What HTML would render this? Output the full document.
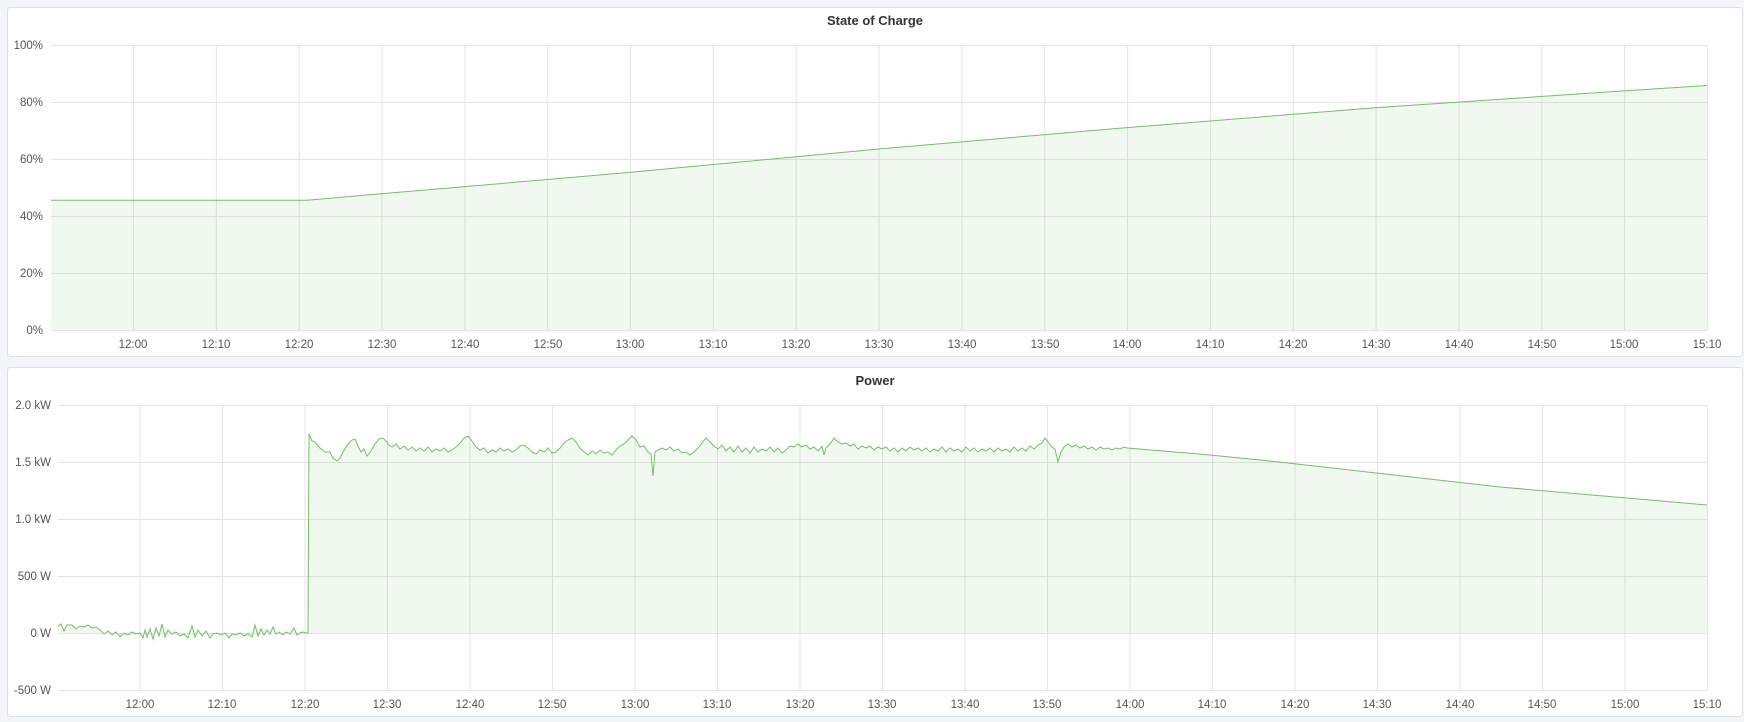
<!DOCTYPE html>
<html><head><meta charset="utf-8"><style>
html,body{margin:0;padding:0;background:#f4f5f8;width:1744px;height:722px;overflow:hidden;font-family:"Liberation Sans",sans-serif}
svg{position:absolute;left:0;top:0}
text{font-family:"Liberation Sans",sans-serif}
</style></head><body>
<svg width="1744" height="722" xmlns="http://www.w3.org/2000/svg">
<rect x="7.5" y="7.5" width="1735" height="349" rx="3" fill="#fff" stroke="#dce1e8"/>
<rect x="7.5" y="367.5" width="1735" height="349" rx="3" fill="#fff" stroke="#dce1e8"/>
<text x="875" y="25" text-anchor="middle" font-size="13" font-weight="bold" fill="#333">State of Charge</text>
<text x="875" y="385" text-anchor="middle" font-size="13" font-weight="bold" fill="#333">Power</text>

<g stroke="#e4e4e4" stroke-width="1">
<line x1="51" x2="1707" y1="45.5" y2="45.5"/><line x1="51" x2="1707" y1="102.5" y2="102.5"/><line x1="51" x2="1707" y1="159.5" y2="159.5"/><line x1="51" x2="1707" y1="216.5" y2="216.5"/><line x1="51" x2="1707" y1="273.5" y2="273.5"/><line x1="51" x2="1707" y1="330.5" y2="330.5"/>
<line x1="133.5" x2="133.5" y1="45" y2="330"/><line x1="216.3" x2="216.3" y1="45" y2="330"/><line x1="299.2" x2="299.2" y1="45" y2="330"/><line x1="382" x2="382" y1="45" y2="330"/><line x1="464.9" x2="464.9" y1="45" y2="330"/><line x1="547.7" x2="547.7" y1="45" y2="330"/><line x1="630.5" x2="630.5" y1="45" y2="330"/><line x1="713.4" x2="713.4" y1="45" y2="330"/><line x1="796.2" x2="796.2" y1="45" y2="330"/><line x1="879.1" x2="879.1" y1="45" y2="330"/><line x1="961.9" x2="961.9" y1="45" y2="330"/><line x1="1044.7" x2="1044.7" y1="45" y2="330"/><line x1="1127.6" x2="1127.6" y1="45" y2="330"/><line x1="1210.4" x2="1210.4" y1="45" y2="330"/><line x1="1293.3" x2="1293.3" y1="45" y2="330"/><line x1="1376.1" x2="1376.1" y1="45" y2="330"/><line x1="1458.9" x2="1458.9" y1="45" y2="330"/><line x1="1541.8" x2="1541.8" y1="45" y2="330"/><line x1="1624.6" x2="1624.6" y1="45" y2="330"/><line x1="1707.5" x2="1707.5" y1="45" y2="330"/>
<line x1="58" x2="1707" y1="405.5" y2="405.5"/><line x1="58" x2="1707" y1="462.5" y2="462.5"/><line x1="58" x2="1707" y1="519.5" y2="519.5"/><line x1="58" x2="1707" y1="576.5" y2="576.5"/><line x1="58" x2="1707" y1="633.5" y2="633.5"/><line x1="58" x2="1707" y1="690.5" y2="690.5"/>
<line x1="140" x2="140" y1="405" y2="690"/><line x1="222.5" x2="222.5" y1="405" y2="690"/><line x1="305" x2="305" y1="405" y2="690"/><line x1="387.5" x2="387.5" y1="405" y2="690"/><line x1="470" x2="470" y1="405" y2="690"/><line x1="552.5" x2="552.5" y1="405" y2="690"/><line x1="635" x2="635" y1="405" y2="690"/><line x1="717.5" x2="717.5" y1="405" y2="690"/><line x1="800" x2="800" y1="405" y2="690"/><line x1="882.5" x2="882.5" y1="405" y2="690"/><line x1="965" x2="965" y1="405" y2="690"/><line x1="1047.5" x2="1047.5" y1="405" y2="690"/><line x1="1130" x2="1130" y1="405" y2="690"/><line x1="1212.5" x2="1212.5" y1="405" y2="690"/><line x1="1295" x2="1295" y1="405" y2="690"/><line x1="1377.5" x2="1377.5" y1="405" y2="690"/><line x1="1460" x2="1460" y1="405" y2="690"/><line x1="1542.5" x2="1542.5" y1="405" y2="690"/><line x1="1625" x2="1625" y1="405" y2="690"/><line x1="1707.5" x2="1707.5" y1="405" y2="690"/>
</g>

<g font-size="11.5" fill="#555" text-anchor="end">
<text x="43" y="49">100%</text><text x="43" y="106">80%</text><text x="43" y="163">60%</text><text x="43" y="220">40%</text><text x="43" y="277">20%</text><text x="43" y="334">0%</text>
<text x="51" y="409">2.0 kW</text><text x="51" y="466">1.5 kW</text><text x="51" y="523">1.0 kW</text><text x="51" y="580">500 W</text><text x="51" y="637">0 W</text><text x="51" y="694">-500 W</text>
</g>
<g font-size="11.5" fill="#555" text-anchor="middle">
<text x="133" y="348">12:00</text><text x="216" y="348">12:10</text><text x="299" y="348">12:20</text><text x="382" y="348">12:30</text><text x="465" y="348">12:40</text><text x="548" y="348">12:50</text><text x="630" y="348">13:00</text><text x="713" y="348">13:10</text><text x="796" y="348">13:20</text><text x="879" y="348">13:30</text><text x="962" y="348">13:40</text><text x="1045" y="348">13:50</text><text x="1127" y="348">14:00</text><text x="1210" y="348">14:10</text><text x="1293" y="348">14:20</text><text x="1376" y="348">14:30</text><text x="1459" y="348">14:40</text><text x="1542" y="348">14:50</text><text x="1624" y="348">15:00</text><text x="1707" y="348">15:10</text>
<text x="140" y="708">12:00</text><text x="222" y="708">12:10</text><text x="305" y="708">12:20</text><text x="387" y="708">12:30</text><text x="470" y="708">12:40</text><text x="552" y="708">12:50</text><text x="635" y="708">13:00</text><text x="717" y="708">13:10</text><text x="800" y="708">13:20</text><text x="882" y="708">13:30</text><text x="965" y="708">13:40</text><text x="1047" y="708">13:50</text><text x="1130" y="708">14:00</text><text x="1212" y="708">14:10</text><text x="1295" y="708">14:20</text><text x="1377" y="708">14:30</text><text x="1460" y="708">14:40</text><text x="1542" y="708">14:50</text><text x="1625" y="708">15:00</text><text x="1707" y="708">15:10</text>
</g>

<path d="M51,330 L51,200.3 L307,200.3 L381.5,193.8 L630,172.4 L878.6,149 L1127,127.6 L1375.6,107.7 L1624,90.9 L1707,85.5 L1707,330 Z" fill="rgba(115,191,105,0.1)"/>
<path d="M51,200.3 L307,200.3 L381.5,193.8 L630,172.4 L878.6,149 L1127,127.6 L1375.6,107.7 L1624,90.9 L1707,85.5" fill="none" stroke="#73bf69" stroke-width="1"/>

<path d="M58,633 L58,626 L61,624 L64,631 L67,625 L72,625 L76,629 L80,626 L84,627 L88,625 L92,628 L96,627 L100,630 L104,634 L108,631 L112,635 L116,632 L120,637 L124,633 L128,635 L132,632 L136,634 L140,633 L143,638 L145,630 L147,637 L150,629 L153,639 L156,628 L159,636 L162,624 L165,637 L168,630 L172,634 L176,632 L180,636 L184,634 L188,638 L192,626 L195,637 L198,630 L202,636 L206,631 L210,638 L213,634 L217,633 L221,635 L225,633 L229,638 L232,634 L236,635 L240,633 L244,636 L248,634 L252,637 L255,625 L258,636 L261,629 L264,635 L267,630 L270,634 L273,627 L276,634 L279,632 L283,635 L286,632 L290,634 L294,628 L297,635 L300,633 L303,632 L306,633 L308,633 L309,434 L310,436 L312,441 L315,442 L320,448 L325,452 L330,452 L333,458 L337,461 L340,458 L343,452 L348,444 L352,440 L355,439 L358,446 L361,452 L364,449 L367,456 L371,451 L375,444 L379,439 L383,438 L386,441 L389,445 L392,447 L396,444 L400,449 L404,446 L408,450 L412,447 L416,451 L420,448 L424,451 L428,447 L432,452 L436,449 L440,451 L444,448 L448,452 L452,450 L456,447 L460,443 L464,438 L468,436 L472,441 L476,447 L480,450 L484,448 L488,453 L492,450 L496,452 L500,448 L504,451 L508,449 L512,452 L516,450 L520,446 L524,445 L528,448 L532,452 L536,454 L540,450 L544,452 L548,448 L552,453 L556,452 L560,448 L564,443 L568,440 L572,438 L576,442 L580,448 L584,452 L588,455 L592,451 L596,454 L600,450 L604,453 L608,452 L612,455 L616,450 L620,446 L624,444 L628,440 L632,436 L636,440 L640,447 L644,446 L648,452 L651,454 L653,476 L655,452 L658,450 L662,448 L666,450 L670,447 L674,451 L678,449 L682,453 L686,452 L690,455 L694,452 L698,448 L702,443 L706,438 L710,442 L714,446 L718,449 L722,445 L726,451 L730,447 L734,452 L738,446 L742,452 L746,448 L750,453 L754,447 L758,452 L762,449 L766,451 L770,447 L774,452 L778,448 L782,453 L786,450 L790,446 L794,447 L798,444 L802,447 L806,445 L810,449 L814,447 L818,451 L822,446 L824,455 L826,448 L830,444 L834,438 L838,442 L842,444 L846,443 L850,446 L854,444 L858,449 L862,446 L866,448 L870,446 L874,450 L878,447 L882,449 L886,447 L890,451 L894,448 L898,452 L902,448 L906,451 L910,447 L914,450 L918,448 L922,451 L926,448 L930,452 L934,449 L938,451 L942,447 L946,452 L950,448 L954,451 L958,449 L962,452 L966,447 L970,451 L974,448 L978,452 L982,449 L986,451 L990,448 L994,452 L998,448 L1002,451 L1006,449 L1010,452 L1014,447 L1018,451 L1022,448 L1026,451 L1030,446 L1034,449 L1038,445 L1042,443 L1045,438 L1048,442 L1052,447 L1055,449 L1058,462 L1061,452 L1064,447 L1068,444 L1072,447 L1076,445 L1080,448 L1084,446 L1088,449 L1092,447 L1096,450 L1100,447 L1104,449 L1108,448 L1112,450 L1116,448 L1120,449 L1124,447 L1127,448 L1200,454 L1270,461 L1350,470 L1420,478 L1500,487 L1580,494 L1650,500 L1707,505 L1707,633 Z" fill="rgba(115,191,105,0.1)"/>
<path d="M58,626 L61,624 L64,631 L67,625 L72,625 L76,629 L80,626 L84,627 L88,625 L92,628 L96,627 L100,630 L104,634 L108,631 L112,635 L116,632 L120,637 L124,633 L128,635 L132,632 L136,634 L140,633 L143,638 L145,630 L147,637 L150,629 L153,639 L156,628 L159,636 L162,624 L165,637 L168,630 L172,634 L176,632 L180,636 L184,634 L188,638 L192,626 L195,637 L198,630 L202,636 L206,631 L210,638 L213,634 L217,633 L221,635 L225,633 L229,638 L232,634 L236,635 L240,633 L244,636 L248,634 L252,637 L255,625 L258,636 L261,629 L264,635 L267,630 L270,634 L273,627 L276,634 L279,632 L283,635 L286,632 L290,634 L294,628 L297,635 L300,633 L303,632 L306,633 L308,633 L309,434 L310,436 L312,441 L315,442 L320,448 L325,452 L330,452 L333,458 L337,461 L340,458 L343,452 L348,444 L352,440 L355,439 L358,446 L361,452 L364,449 L367,456 L371,451 L375,444 L379,439 L383,438 L386,441 L389,445 L392,447 L396,444 L400,449 L404,446 L408,450 L412,447 L416,451 L420,448 L424,451 L428,447 L432,452 L436,449 L440,451 L444,448 L448,452 L452,450 L456,447 L460,443 L464,438 L468,436 L472,441 L476,447 L480,450 L484,448 L488,453 L492,450 L496,452 L500,448 L504,451 L508,449 L512,452 L516,450 L520,446 L524,445 L528,448 L532,452 L536,454 L540,450 L544,452 L548,448 L552,453 L556,452 L560,448 L564,443 L568,440 L572,438 L576,442 L580,448 L584,452 L588,455 L592,451 L596,454 L600,450 L604,453 L608,452 L612,455 L616,450 L620,446 L624,444 L628,440 L632,436 L636,440 L640,447 L644,446 L648,452 L651,454 L653,476 L655,452 L658,450 L662,448 L666,450 L670,447 L674,451 L678,449 L682,453 L686,452 L690,455 L694,452 L698,448 L702,443 L706,438 L710,442 L714,446 L718,449 L722,445 L726,451 L730,447 L734,452 L738,446 L742,452 L746,448 L750,453 L754,447 L758,452 L762,449 L766,451 L770,447 L774,452 L778,448 L782,453 L786,450 L790,446 L794,447 L798,444 L802,447 L806,445 L810,449 L814,447 L818,451 L822,446 L824,455 L826,448 L830,444 L834,438 L838,442 L842,444 L846,443 L850,446 L854,444 L858,449 L862,446 L866,448 L870,446 L874,450 L878,447 L882,449 L886,447 L890,451 L894,448 L898,452 L902,448 L906,451 L910,447 L914,450 L918,448 L922,451 L926,448 L930,452 L934,449 L938,451 L942,447 L946,452 L950,448 L954,451 L958,449 L962,452 L966,447 L970,451 L974,448 L978,452 L982,449 L986,451 L990,448 L994,452 L998,448 L1002,451 L1006,449 L1010,452 L1014,447 L1018,451 L1022,448 L1026,451 L1030,446 L1034,449 L1038,445 L1042,443 L1045,438 L1048,442 L1052,447 L1055,449 L1058,462 L1061,452 L1064,447 L1068,444 L1072,447 L1076,445 L1080,448 L1084,446 L1088,449 L1092,447 L1096,450 L1100,447 L1104,449 L1108,448 L1112,450 L1116,448 L1120,449 L1124,447 L1127,448 L1200,454 L1270,461 L1350,470 L1420,478 L1500,487 L1580,494 L1650,500 L1707,505" fill="none" stroke="#73bf69" stroke-width="1"/>
</svg>
</body></html>
